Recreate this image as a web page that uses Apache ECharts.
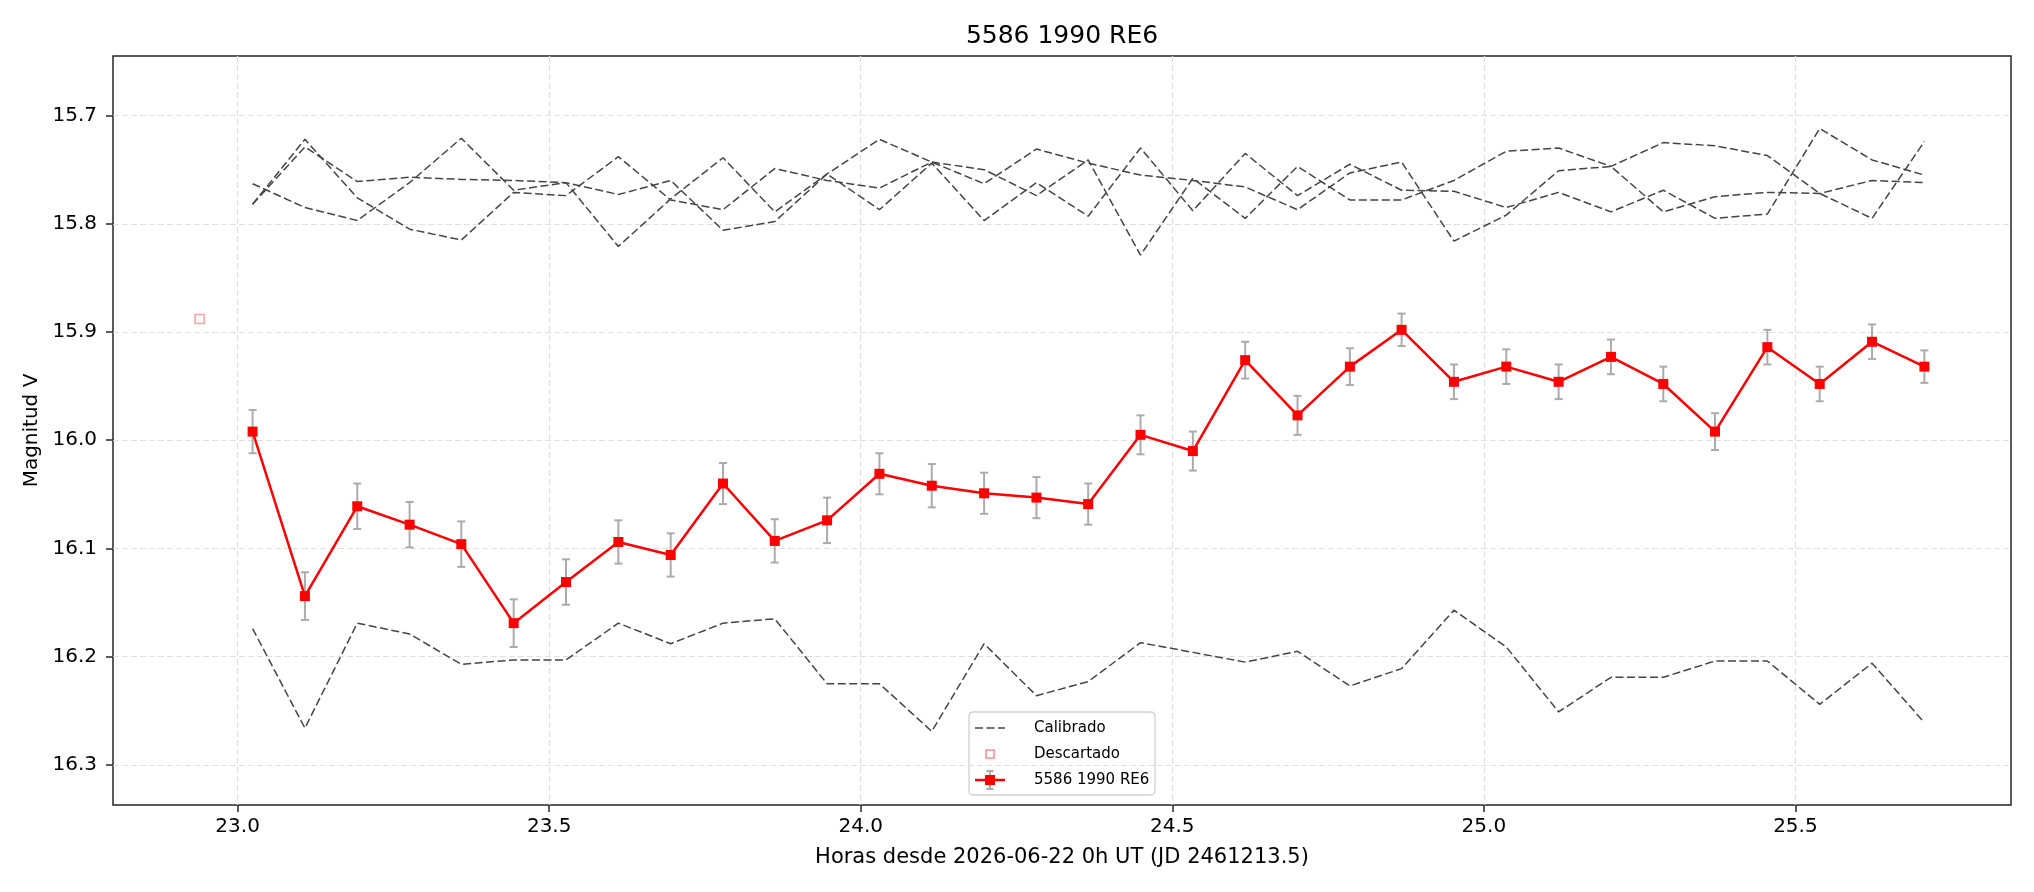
<!DOCTYPE html>
<html>
<head>
<meta charset="utf-8">
<title>5586 1990 RE6</title>
<script src="https://cdn.jsdelivr.net/npm/echarts@6/dist/echarts.min.js"></script>
<style>
    html, body { margin: 0; padding: 0; background: #fff; }
    #main { width: 2034px; height: 892px; }
</style>
</head>
<body>
<div id="main"></div>
<script>
// horas desde 2026-06-22 0h UT
var hours = [23.024, 23.108, 23.192, 23.276, 23.359, 23.443, 23.527, 23.611, 23.695, 23.779, 23.862,
             23.946, 24.030, 24.114, 24.198, 24.282, 24.365, 24.449, 24.533, 24.617, 24.701, 24.785,
             24.868, 24.952, 25.036, 25.120, 25.204, 25.288, 25.371, 25.455, 25.539, 25.623, 25.707];

// objetivo (magnitud V y error)
var targetMag = [15.992, 16.144, 16.061, 16.078, 16.096, 16.169, 16.131, 16.094, 16.106, 16.040, 16.093,
                 16.074, 16.031, 16.042, 16.049, 16.053, 16.059, 15.995, 16.010, 15.926, 15.977, 15.932,
                 15.898, 15.946, 15.932, 15.946, 15.923, 15.948, 15.992, 15.914, 15.948, 15.909, 15.932];
var targetErr = [0.020, 0.022, 0.021, 0.021, 0.021, 0.022, 0.021, 0.020, 0.020, 0.019, 0.020,
                 0.021, 0.019, 0.020, 0.019, 0.019, 0.019, 0.018, 0.018, 0.017, 0.018, 0.017,
                 0.015, 0.016, 0.016, 0.016, 0.016, 0.016, 0.017, 0.016, 0.016, 0.016, 0.015];

// estrellas de calibracion
var calibA = [15.782, 15.722, 15.776, 15.805, 15.815, 15.771, 15.774, 15.738, 15.778, 15.787, 15.749,
              15.760, 15.767, 15.743, 15.750, 15.774, 15.741, 15.829, 15.758, 15.795, 15.747, 15.778,
              15.778, 15.760, 15.733, 15.730, 15.747, 15.725, 15.728, 15.737, 15.772, 15.795, 15.724];
var calibB = [15.782, 15.729, 15.761, 15.757, 15.759, 15.760, 15.762, 15.773, 15.760, 15.806, 15.798,
              15.754, 15.787, 15.744, 15.797, 15.762, 15.793, 15.730, 15.788, 15.735, 15.774, 15.745,
              15.769, 15.770, 15.785, 15.771, 15.789, 15.769, 15.795, 15.791, 15.712, 15.741, 15.755];
var calibC = [15.763, 15.785, 15.797, 15.762, 15.721, 15.769, 15.762, 15.821, 15.777, 15.739, 15.789,
              15.754, 15.722, 15.743, 15.763, 15.731, 15.744, 15.755, 15.760, 15.766, 15.787, 15.753,
              15.743, 15.816, 15.792, 15.751, 15.747, 15.789, 15.775, 15.771, 15.772, 15.760, 15.762];
var calibD = [16.174, 16.266, 16.169, 16.179, 16.207, 16.203, 16.203, 16.169, 16.188, 16.169, 16.165,
              16.225, 16.225, 16.269, 16.188, 16.236, 16.223, 16.187, 16.196, 16.205, 16.195, 16.227,
              16.211, 16.157, 16.191, 16.251, 16.219, 16.219, 16.204, 16.204, 16.244, 16.206, 16.261];

// punto descartado
var discardHour = [22.939];
var discardMag = [15.888];

var xTicks = [23.0, 23.5, 24.0, 24.5, 25.0, 25.5];
var yTicks = [15.7, 15.8, 15.9, 16.0, 16.1, 16.2, 16.3];

var FONT = 'DejaVu Sans';
var CALIB_COLOR = '#444';
var ERR_COLOR = '#ababab';
var DISCARD_COLOR = 'rgba(255,0,0,0.45)';

function pairs(xs, ys) {
    var out = [];
    for (var i = 0; i < xs.length; i++) {
        out.push([xs[i], ys[i]]);
    }
    return out;
}

function errorData() {
    var out = [];
    for (var i = 0; i < hours.length; i++) {
        out.push([hours[i], targetMag[i] - targetErr[i], targetMag[i] + targetErr[i]]);
    }
    return out;
}

function errorBarShapes(x, y1, y2, cap) {
    var style = { stroke: ERR_COLOR, lineWidth: 2 };
    return [
        { type: 'line', shape: { x1: x, y1: y1, x2: x, y2: y2 }, style: style },
        { type: 'line', shape: { x1: x - cap, y1: y1, x2: x + cap, y2: y1 }, style: style },
        { type: 'line', shape: { x1: x - cap, y1: y2, x2: x + cap, y2: y2 }, style: style }
    ];
}

function renderErrorBar(params, api) {
    var a = api.coord([api.value(0), api.value(1)]);
    var b = api.coord([api.value(0), api.value(2)]);
    return {
        type: 'group',
        children: errorBarShapes(a[0], a[1], b[1], 4)
    };
}

function calibSeries(values) {
    return {
        name: 'Calibrado',
        type: 'line',
        data: pairs(hours, values),
        symbol: 'none',
        z: 1,
        itemStyle: { color: CALIB_COLOR },
        lineStyle: { color: CALIB_COLOR, width: 1.5, type: [8, 3.5] }
    };
}

// leyenda dibujada a mano (caja como la de matplotlib)
function legendGraphic() {
    var left = 969, top = 712, w = 186, h = 83;
    var ix0 = 975, ix1 = 1005, ic = 990, tx = 1034;
    var rows = [728, 754, 780];
    var textStyle = function (t, y) {
        return {
            type: 'text', x: tx, y: y,
            style: { text: t, font: '15px "DejaVu Sans"', fill: '#000', textVerticalAlign: 'middle' }
        };
    };
    var children = [
        {
            type: 'rect',
            shape: { x: left, y: top, width: w, height: h, r: 4 },
            style: { fill: 'rgba(255,255,255,0.85)', stroke: '#d0d0d0', lineWidth: 1.3 }
        },
        {
            type: 'line',
            shape: { x1: ix0, y1: rows[0], x2: ix1, y2: rows[0] },
            style: { stroke: CALIB_COLOR, lineWidth: 1.5, lineDash: [8, 3.5] }
        },
        textStyle('Calibrado', rows[0]),
        {
            type: 'rect',
            shape: { x: ic - 4, y: rows[1] - 4, width: 8, height: 8 },
            style: { fill: '#fff', stroke: DISCARD_COLOR, lineWidth: 1.6 }
        },
        textStyle('Descartado', rows[1])
    ];
    children = children.concat(errorBarShapes(ic, rows[2] - 9, rows[2] + 9, 3.5));
    children.push({
        type: 'line',
        shape: { x1: ix0, y1: rows[2], x2: ix1, y2: rows[2] },
        style: { stroke: '#ff0000', lineWidth: 2.5 }
    });
    children.push({
        type: 'rect',
        shape: { x: ic - 5, y: rows[2] - 5, width: 10, height: 10 },
        style: { fill: '#ff0000' }
    });
    children.push(textStyle('5586 1990 RE6', rows[2]));
    return { type: 'group', z: 100, children: children };
}

var chart = echarts.init(document.getElementById('main'));

var option = {
    animation: false,
    backgroundColor: '#fff',
    textStyle: { fontFamily: FONT },
    graphic: [
        {
            type: 'text',
            x: 1062,
            y: 36,
            style: {
                text: '5586 1990 RE6',
                font: '25px "DejaVu Sans"',
                fill: '#000',
                textAlign: 'center',
                textVerticalAlign: 'middle'
            }
        },
        legendGraphic()
    ],
    grid: {
        left: 113,
        right: 23,
        top: 56,
        bottom: 87,
        show: true,
        borderColor: '#262626',
        borderWidth: 1.5,
        backgroundColor: 'transparent'
    },
    xAxis: {
        type: 'value',
        min: 22.80,
        max: 25.846,
        name: 'Horas desde 2026-06-22 0h UT (JD 2461213.5)',
        nameLocation: 'middle',
        nameGap: 42,
        nameTextStyle: { fontFamily: FONT, fontSize: 21, color: '#000' },
        axisLine: { show: false },
        axisTick: {
            show: true,
            length: 7,
            customValues: xTicks,
            lineStyle: { color: '#262626', width: 1.5 }
        },
        axisLabel: {
            customValues: xTicks,
            margin: 12,
            fontFamily: FONT,
            fontSize: 20,
            color: '#000',
            formatter: function (v) { return v.toFixed(1); }
        },
        splitLine: {
            show: true,
            lineStyle: { color: '#e0e0e0', width: 1.2, type: [6, 3] }
        }
    },
    yAxis: {
        type: 'value',
        inverse: true,
        min: 15.645,
        max: 16.337,
        name: 'Magnitud V',
        nameLocation: 'middle',
        nameGap: 70,
        nameTextStyle: { fontFamily: FONT, fontSize: 20, color: '#000' },
        axisLine: { show: false },
        axisTick: {
            show: true,
            length: 7,
            customValues: yTicks,
            lineStyle: { color: '#262626', width: 1.5 }
        },
        axisLabel: {
            customValues: yTicks,
            margin: 16,
            fontFamily: FONT,
            fontSize: 20,
            color: '#000',
            formatter: function (v) { return v.toFixed(1); }
        },
        splitLine: {
            show: true,
            lineStyle: { color: '#e0e0e0', width: 1.2, type: [6, 3] }
        }
    },
    series: [
        calibSeries(calibA),
        calibSeries(calibB),
        calibSeries(calibC),
        calibSeries(calibD),
        {
            name: 'Descartado',
            type: 'scatter',
            data: pairs(discardHour, discardMag),
            symbol: 'rect',
            symbolSize: 9,
            z: 2,
            itemStyle: { color: '#fff', borderColor: DISCARD_COLOR, borderWidth: 1.6 }
        },
        {
            name: '5586 1990 RE6',
            type: 'line',
            data: pairs(hours, targetMag),
            symbol: 'rect',
            symbolSize: 10,
            showSymbol: true,
            z: 4,
            itemStyle: { color: '#ff0000' },
            lineStyle: { color: '#ff0000', width: 2.5 }
        },
        {
            name: '5586 1990 RE6 err',
            type: 'custom',
            data: errorData(),
            encode: { x: 0, y: [1, 2] },
            renderItem: renderErrorBar,
            z: 3
        }
    ]
};

chart.setOption(option);
</script>
</body>
</html>
